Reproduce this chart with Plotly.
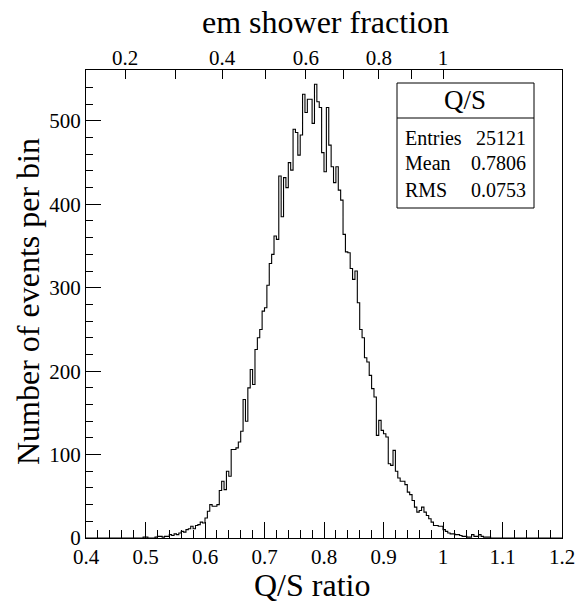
import numpy as np
import plotly.graph_objects as go

# ---------------- data ----------------
bin_low = 0.496          # left edge of first listed bin
bin_width = 0.004
counts = [
    1, 1, 0, 0, 0, 1, 2, 2, 1, 2,            # 0.496 - 0.532
    2, 4, 3, 5, 4, 6, 8, 7, 10, 11,          # 0.536 - 0.572
    14, 11, 15, 16, 19, 18, 24, 32, 40, 38,  # 0.576 - 0.612
    38, 40, 57, 68, 58, 80, 74, 106, 106, 108,   # 0.616 - 0.652
    115, 128, 166, 140, 180, 202, 184, 226, 240, 250,  # 0.656 - 0.692
    272, 276, 303, 329, 340, 362, 358, 434, 385, 432,  # 0.696 - 0.732
    420, 450, 441, 490, 486, 459, 483, 532, 510, 526,  # 0.736 - 0.772
    526, 497, 544, 523, 516, 462, 439, 516, 471, 445,  # 0.776 - 0.812
    426, 445, 417, 405, 364, 343, 342, 323, 310, 320,  # 0.816 - 0.852
    282, 250, 240, 216, 211, 195, 179, 169, 123, 141,  # 0.856 - 0.892
    129, 125, 121, 89, 87, 105, 80, 72, 68, 68,        # 0.896 - 0.932
    64, 55, 52, 45, 37, 31, 33, 37, 31, 27,            # 0.936 - 0.972
    23, 19, 15, 15, 14, 14, 10, 8, 6, 5,               # 0.976 - 1.012
    5, 4, 4, 3, 2, 2, 1, 1, 4, 2,                      # 1.016 - 1.052
    2, 4, 2, 1, 1, 1,                                  # 1.056 - 1.076
]

x_tick_vals = [0.4, 0.5, 0.6, 0.7, 0.8, 0.9, 1.0, 1.1, 1.2]
x_tick_text = ["0.4", "0.5", "0.6", "0.7", "0.8", "0.9", "1", "1.1", "1.2"]
y_tick_vals = [0, 100, 200, 300, 400, 500]
y_tick_text = ["0", "100", "200", "300", "400", "500"]

# top axis: em shower fraction f, mapped to Q/S = (f+(1-f)hQ)/(f+(1-f)hS)
em_frac_vals = [0.2, 0.3, 0.4, 0.5, 0.6, 0.7, 0.8, 0.9, 1.0]
em_frac_text = ["0.2", "", "0.4", "", "0.6", "", "0.8", "", "1"]
h_over_e_Q = 0.1907
h_over_e_S = 0.6966

stats_title = "Q/S"
stats_names = ["Entries", "Mean", "RMS"]
stats_values = ["25121", "0.7806", "0.0753"]

x_title = "Q/S ratio"
y_title = "Number of events per bin"
top_title = "em shower fraction"

x_range = [0.4, 1.2]
y_range = [0, 561]

# ---------------- figure ----------------
FONT = "Times New Roman, Liberation Serif, DejaVu Serif, serif"
W, H = 575, 605
L, R, T, B = 86, 13, 70, 67
PW, PH = W - L - R, H - T - B


def px(xp):
    return (xp - L) / PW


def py(yp):
    return (H - B - yp) / PH


edges = bin_low + bin_width * np.arange(len(counts) + 1)
xs = [x_range[0]] + list(edges) + [x_range[1]]
ys = [0] + list(counts) + [0, 0]

fig = go.Figure()
fig.add_trace(go.Scatter(x=xs, y=ys, mode="lines", line=dict(shape="hv", color="#000000", width=1.1),
                         hoverinfo="skip", showlegend=False))
top_pos = [(f + (1 - f) * h_over_e_Q) / (f + (1 - f) * h_over_e_S) for f in em_frac_vals]
fig.add_trace(go.Scatter(x=[x_range[0]], y=[0], xaxis="x2", mode="markers", marker=dict(opacity=0),
                         hoverinfo="skip", showlegend=False))

axis_font = dict(family=FONT, size=21, color="black")
fig.update_layout(
    width=W, height=H,
    margin=dict(l=L, r=R, t=T, b=B, autoexpand=False),
    paper_bgcolor="white", plot_bgcolor="white",
    font=dict(family=FONT, color="black"),
    xaxis=dict(range=x_range, tickmode="array", tickvals=x_tick_vals, ticktext=x_tick_text,
               ticks="inside", ticklen=16, tickwidth=1, tickcolor="black", ticklabeloverflow="allow",
               automargin=False,
               minor=dict(tickmode="linear", tick0=0.4, dtick=0.02, ticks="inside", ticklen=8,
                          tickcolor="black", tickwidth=1, showgrid=False),
               showline=True, linecolor="black", linewidth=1, mirror=True,
               showgrid=False, zeroline=False, tickfont=axis_font),
    xaxis2=dict(range=x_range, overlaying="x", side="top", tickmode="array", tickvals=top_pos,
                ticktext=em_frac_text, ticks="inside", ticklen=9, tickcolor="black", automargin=False,
                showline=False, showgrid=False, zeroline=False, tickfont=axis_font),
    yaxis=dict(range=y_range, tickmode="array", tickvals=y_tick_vals, ticktext=y_tick_text,
               ticks="inside", ticklen=15, tickwidth=1, tickcolor="black", automargin=False,
               minor=dict(tickmode="linear", tick0=0, dtick=20, ticks="inside", ticklen=7,
                          tickcolor="black", tickwidth=1, showgrid=False),
               showline=True, linecolor="black", linewidth=1, mirror=True,
               showgrid=False, zeroline=False, tickfont=axis_font),
)

annotations = [
    dict(text=x_title, x=px(312), y=py(585), xref="paper", yref="paper", showarrow=False,
         xanchor="center", yanchor="middle", font=dict(family=FONT, size=32, color="black")),
    dict(text=top_title, x=px(325), y=py(22), xref="paper", yref="paper", showarrow=False,
         xanchor="center", yanchor="middle", font=dict(family=FONT, size=32, color="black")),
    dict(text=y_title, x=px(28), y=py(302), xref="paper", yref="paper", showarrow=False,
         textangle=-90, xanchor="center", yanchor="middle", font=dict(family=FONT, size=32, color="black")),
    dict(text=stats_title, x=px(465), y=py(100), xref="paper", yref="paper", showarrow=False,
         xanchor="center", yanchor="middle", font=dict(family=FONT, size=27, color="black")),
]
row_y = [138, 163, 190]
for name, val, yy in zip(stats_names, stats_values, row_y):
    annotations.append(dict(text=name, x=px(403), y=py(yy), xref="paper", yref="paper", showarrow=False,
                            xanchor="left", yanchor="middle", font=dict(family=FONT, size=20, color="black")))
    annotations.append(dict(text=val, x=px(528), y=py(yy), xref="paper", yref="paper", showarrow=False,
                            xanchor="right", yanchor="middle", font=dict(family=FONT, size=20, color="black")))
fig.update_layout(annotations=annotations)

fig.update_layout(shapes=[
    dict(type="rect", xref="paper", yref="paper", x0=px(397), x1=px(534), y0=py(208), y1=py(83),
         line=dict(color="black", width=1), fillcolor="white", layer="above"),
    dict(type="line", xref="paper", yref="paper", x0=px(397), x1=px(534), y0=py(118), y1=py(118),
         line=dict(color="black", width=1)),
])

fig.write_html("out.html", config={"displayModeBar": False})
